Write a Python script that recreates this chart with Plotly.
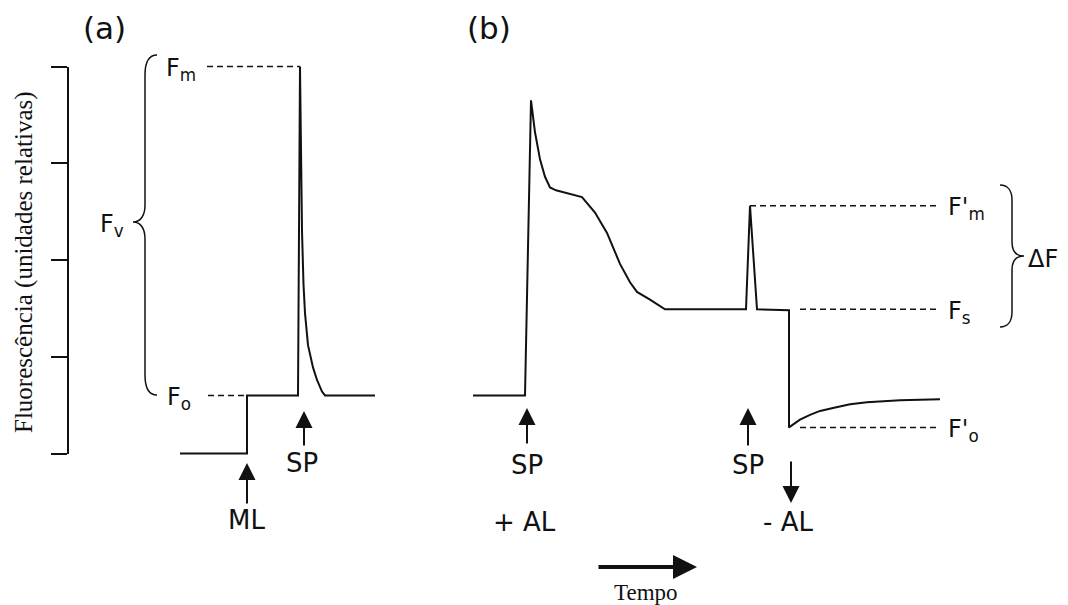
import plotly.graph_objects as go

# Panel (a): dark-adapted induction (time in relative units, fluorescence in relative units)
tempo_a = [180, 247, 247, 298, 300, 301, 302, 303.5, 305, 308, 313, 317, 322, 325, 375]
fluor_a = [0.0, 0.0, 0.6, 0.6, 4.0, 3.1, 2.3, 1.75, 1.45, 1.12, 0.89, 0.76, 0.64, 0.6, 0.6]

# Panel (b): light-adapted kinetics with saturating pulses
tempo_b = [473, 525, 531, 535, 540, 545, 550, 556, 582, 595, 607, 620, 630, 637, 650, 665,
           746, 750, 757, 789, 789, 795, 800, 810, 820, 833, 850, 867, 900, 940]
fluor_b = [0.6, 0.6, 3.65, 3.32, 3.04, 2.86, 2.75, 2.72, 2.65, 2.49, 2.28, 1.96, 1.77, 1.67, 1.59, 1.49,
           1.49, 2.56, 1.49, 1.48, 0.27, 0.31, 0.35, 0.40, 0.44, 0.47, 0.51, 0.53, 0.55, 0.56]

# Reference levels: (label, level, dashed start, dashed end)
niveis_a = [("F<sub>m</sub>", 4.0, 207, 300), ("F<sub>o</sub>", 0.6, 208, 247)]
niveis_b = [("F'<sub>m</sub>", 2.56, 750, 938), ("F<sub>s</sub>", 1.49, 800, 938),
            ("F'<sub>o</sub>", 0.27, 800, 938)]

W, H = 1068, 605
PX_PER_UNIT = 96.75
ZERO_PX = 453.5


def fy(py):
    """Convert a vertical page offset to fluorescence units."""
    return (ZERO_PX - py) / PX_PER_UNIT


SANS = "DejaVu Sans"
SERIF = "Liberation Serif"
INK = "#111111"

fig = go.Figure()

for tx, fv in ((tempo_a, fluor_a), (tempo_b, fluor_b)):
    fig.add_trace(go.Scatter(x=tx, y=fv, mode="lines",
                             line=dict(color=INK, width=2), showlegend=False,
                             hoverinfo="skip"))

for _, lvl, x0, x1 in niveis_a + niveis_b:
    fig.add_trace(go.Scatter(x=[x0, x1], y=[lvl, lvl], mode="lines",
                             line=dict(color=INK, width=1.5, dash="6px,4px"),
                             showlegend=False, hoverinfo="skip"))

# empty trace that carries the visible fluorescence axis
fig.add_trace(go.Scatter(x=[None], y=[None], yaxis="y2", showlegend=False))

ann = []


def label(text, x, y, size=24, xanchor="center", font=SANS, yshift=0, angle=0):
    ann.append(dict(x=x, y=y, xref="x", yref="y", text=text, showarrow=False,
                    xanchor=xanchor, yanchor="middle", yshift=yshift,
                    textangle=angle, font=dict(family=font, size=size, color=INK)))


def arrow(x, y_tail, y_head, width=2, size=1.7, x_tail=None):
    ann.append(dict(x=x, y=fy(y_head), ax=x if x_tail is None else x_tail, ay=fy(y_tail),
                    xref="x", yref="y", axref="x", ayref="y", text="",
                    showarrow=True, arrowhead=2, arrowsize=size,
                    arrowwidth=width, arrowcolor=INK))


label("(a)", 104, fy(28), size=31)
label("(b)", 489, fy(28), size=31)

for txt, lvl, x0, _ in niveis_a:
    label(txt, x0 - 43, lvl, xanchor="left", yshift=-3)
label("F<sub>v</sub>", 98, fy(222), xanchor="left", yshift=-3)
for txt, lvl, _, x1 in niveis_b:
    label(txt, x1 + 8, lvl, xanchor="left", yshift=-3)
label("ΔF", 1026, fy(259), xanchor="left")

# stimulus markers
arrow(247, 505, 463)
label("ML", 246, fy(520), size=26)
arrow(304, 447, 411)
label("SP", 302, fy(463), size=26)
arrow(527, 445, 408)
label("SP", 527, fy(465), size=26)
label("+ AL", 524, fy(522), size=26)
arrow(748, 447, 408)
label("SP", 748, fy(465), size=26)
arrow(791, 460, 503)
label("- AL", 788, fy(522), size=26)

# time direction
arrow(697, 567, 567, width=4, size=1.2, x_tail=597)
label("Tempo", 646, fy(592), size=23, font=SERIF)

label("Fluorescência (unidades relativas)", 24, fy(262), size=25, font=SERIF, angle=-90)


def brace(pts):
    """Build an SVG path from page-style points, y converted to fluorescence units."""
    out = []
    for cmd, coords in pts:
        s = " ".join(f"{x},{fy(y):.4f}" for x, y in coords)
        out.append(f"{cmd} {s}")
    return " ".join(out)


brace_a = brace([
    ("M", [(157, 55)]),
    ("C", [(149, 55), (145, 62), (145, 75)]),
    ("L", [(145, 205)]),
    ("C", [(145, 215), (141, 222), (133, 222)]),
    ("C", [(141, 222), (145, 229), (145, 239)]),
    ("L", [(145, 375)]),
    ("C", [(145, 388), (149, 395), (157, 395)]),
])
brace_b = brace([
    ("M", [(1000, 185)]),
    ("C", [(1008, 185), (1012, 191), (1012, 200)]),
    ("L", [(1012, 242)]),
    ("C", [(1012, 251), (1016, 256), (1024, 256)]),
    ("C", [(1016, 256), (1012, 261), (1012, 270)]),
    ("L", [(1012, 312)]),
    ("C", [(1012, 321), (1008, 327), (1000, 327)]),
])
shapes = [dict(type="path", path=p, xref="x", yref="y",
               line=dict(color=INK, width=1.5)) for p in (brace_a, brace_b)]

fig.update_layout(
    width=W, height=H,
    margin=dict(l=0, r=0, t=0, b=0),
    paper_bgcolor="white", plot_bgcolor="rgba(0,0,0,0)",
    xaxis=dict(range=[0, W], visible=False, fixedrange=True),
    yaxis=dict(range=[fy(H), fy(0)], visible=False, fixedrange=True),
    yaxis2=dict(range=[0, 4], domain=[(H - ZERO_PX) / H, (H - ZERO_PX + 4 * PX_PER_UNIT) / H],
                anchor="free", position=68 / W, side="left",
                showline=True, linecolor=INK, linewidth=2,
                ticks="outside", ticklen=16, tickwidth=2, tickcolor=INK,
                tickvals=[0, 1, 2, 3, 4], showticklabels=False,
                showgrid=False, zeroline=False, fixedrange=True),
    annotations=ann,
    shapes=shapes,
    showlegend=False,
)

fig.write_html("out.html")
